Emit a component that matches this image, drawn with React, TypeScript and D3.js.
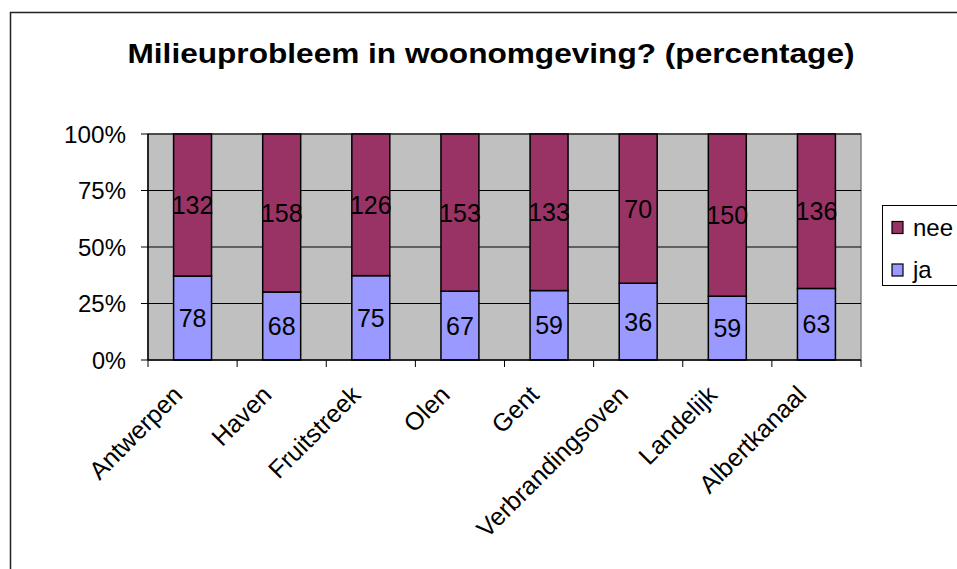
import React from "react";
import * as d3 from "d3";

const categories = ["Antwerpen", "Haven", "Fruitstreek", "Olen", "Gent", "Verbrandingsoven", "Landelijk", "Albertkanaal"];
const jaValues = [78, 68, 75, 67, 59, 36, 59, 63];
const neeValues = [132, 158, 126, 153, 133, 70, 150, 136];
const yTicks = [0, 0.25, 0.5, 0.75, 1];
const seriesNames = ["ja", "nee"];
const seriesColors = ["#9999FF", "#993366"];
const title = "Milieuprobleem in woonomgeving? (percentage)";

const W = 957, H = 569;
const plot = { left: 148, right: 861, top: 134, bottom: 360 };

export default function App() {
  const x = d3.scaleBand<string>().domain(categories).range([plot.left, plot.right]).paddingInner(0.574).paddingOuter(0.287);
  const y = d3.scaleLinear().domain([0, 1]).range([plot.bottom, plot.top]);
  const rows = categories.map((c, i) => ({ cat: c, ja: jaValues[i], nee: neeValues[i] }));
  const stack = d3.stack<any>().keys(seriesNames).offset(d3.stackOffsetExpand)(rows);
  const step = (plot.right - plot.left) / categories.length;
  const font = "Arial, 'Liberation Sans', sans-serif";

  return (
    <div style={{ position: "absolute", left: 0, top: 0 }}>
      <svg width={W} height={H} style={{ display: "block", fontFamily: font }}>
        <rect x={0} y={0} width={W} height={H} fill="#fff" />
        <rect x={10.5} y={12.5} width={W + 10} height={H + 10} fill="none" stroke="#222" strokeWidth={1.5} />
        <text x={491} y={62.5} textAnchor="middle" fontSize={28} fontWeight="bold" textLength={727} lengthAdjust="spacingAndGlyphs" fill="#000">{title}</text>
        <rect x={plot.left} y={plot.top} width={plot.right - plot.left} height={plot.bottom - plot.top} fill="#C0C0C0" stroke="#808080" strokeWidth={1.5} />
        {yTicks.map((t) => (
          <g key={t}>
            {t > 0 && <line x1={plot.left} x2={plot.right} y1={y(t)} y2={y(t)} stroke="#000" strokeWidth={1} />}
            <line x1={plot.left - 7} x2={plot.left} y1={y(t)} y2={y(t)} stroke="#000" strokeWidth={1} />
            <text x={126} y={y(t) + 8.5} textAnchor="end" fontSize={24} textLength={t === 1 ? 62 : t === 0 ? 34 : 48} lengthAdjust="spacingAndGlyphs" fill="#000">{d3.format(".0%")(t)}</text>
          </g>
        ))}
        {stack.map((s, si) => (
          <g key={s.key}>
            {s.map((d, i) => (
              <g key={i}>
                <rect x={x(categories[i])!} y={y(d[1])} width={x.bandwidth()} height={y(d[0]) - y(d[1])} fill={seriesColors[si]} stroke="#000" strokeWidth={1.5} />
                <text x={x(categories[i])! + x.bandwidth() / 2} y={(y(d[0]) + y(d[1])) / 2 + 9} textAnchor="middle" fontSize={25} fill="#000">{(d.data as any)[s.key]}</text>
              </g>
            ))}
          </g>
        ))}
        <line x1={plot.left} x2={plot.left} y1={plot.top} y2={plot.bottom} stroke="#000" strokeWidth={1.5} />
        <line x1={plot.left} x2={plot.right} y1={plot.bottom} y2={plot.bottom} stroke="#000" strokeWidth={1.5} />
        {d3.range(categories.length + 1).map((i) => (
          <line key={i} x1={plot.left + i * step} x2={plot.left + i * step} y1={plot.bottom} y2={plot.bottom + 7} stroke="#000" strokeWidth={1} />
        ))}
        {categories.map((c) => {
          const cx = x(c)! + x.bandwidth() / 2 - 21;
          const cy = plot.bottom + 24;
          return (
            <text key={c} transform={`translate(${cx},${cy}) rotate(-45)`} textAnchor="end" fontSize={25} dy="0.7em" fill="#000">{c}</text>
          );
        })}
        <rect x={882.5} y={205.5} width={90} height={80} fill="#fff" stroke="#000" strokeWidth={1} />
        {["nee", "ja"].map((k, i) => (
          <g key={k}>
            <rect x={892} y={i === 0 ? 221.5 : 264} width={11} height={12} fill={seriesColors[seriesNames.indexOf(k)]} stroke="#000" strokeWidth={1.2} />
            <text x={913} y={i === 0 ? 236 : 278} fontSize={24} fill="#000">{k}</text>
          </g>
        ))}
      </svg>
    </div>
  );
}
